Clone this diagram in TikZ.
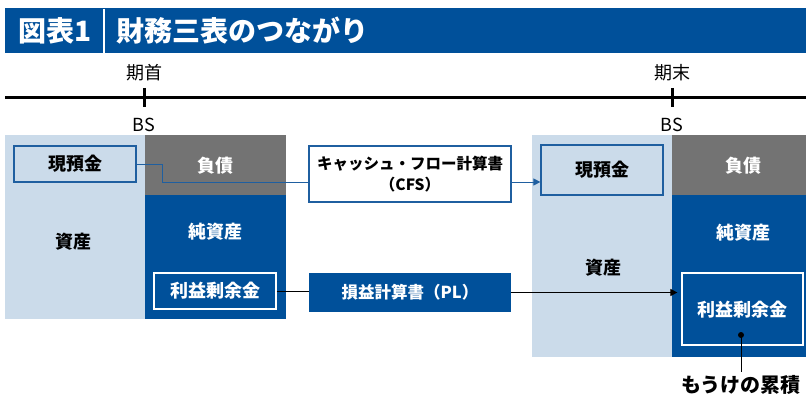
\documentclass[tikz,border=0pt]{standalone}
\usepackage{fontspec}
\setmainfont{Noto Sans CJK JP}
\usetikzlibrary{arrows.meta}
\definecolor{navy}{RGB}{0,80,154}
\definecolor{lightblue}{RGB}{203,219,234}
\definecolor{darkgray}{RGB}{115,115,115}
\definecolor{edgeblue}{RGB}{31,95,160}
\tikzset{
  area/.style={draw=none, inner sep=0pt, outer sep=0pt},
  lbl/.style={font=\fontsize{18}{20}\selectfont\bfseries, inner sep=0pt},
  whitelbl/.style={lbl, text=white},
  timelbl/.style={font=\fontsize{18}{20}\selectfont, inner sep=0pt},
  flowline/.style={edgeblue, line width=1pt},
  blackline/.style={black, line width=1pt},
  tip/.style={-{Triangle[length=7pt,width=7pt]}}
}
\begin{document}
\begin{tikzpicture}[x=1pt,y=-1pt]
\useasboundingbox (0,0) rectangle (806,396);
% title bar
\node[area, fill=navy, minimum width=801pt, minimum height=45pt] (bar) at (405.5,30.5) {};
\draw[white, line width=2pt] (104,9) -- (104,53);
\node[font=\fontsize{28}{30}\selectfont\bfseries, text=white, inner sep=0pt] (fig) at (55,31) {図表1};
\node[font=\fontsize{28}{30}\selectfont\bfseries, text=white, inner sep=0pt, anchor=west] (ttl) at (116,31) {財務三表のつながり};
% timeline
\coordinate (tl0) at (5,97);
\coordinate (tl1) at (806,97);
\draw[line width=3pt] (tl0) -- (tl1);
\draw[line width=3pt] (144,88) -- (144,107);
\draw[line width=3pt] (672,88) -- (672,107);
\node[timelbl] (begin) at (144,73) {期首};
\node[timelbl] (end) at (672,73) {期末};
\node[timelbl] (bs1) at (144,125) {BS};
\node[timelbl] (bs2) at (672,125) {BS};
% left BS
\node[area, fill=lightblue, minimum width=140pt, minimum height=184pt] (assetL) at (75,227) {};
\node[area, fill=darkgray, minimum width=141pt, minimum height=60pt] (liabL) at (215.5,165) {};
\node[area, fill=navy, minimum width=141pt, minimum height=124pt] (eqL) at (215.5,257) {};
\node[draw=edgeblue, line width=1.2pt, fill=lightblue, minimum width=122pt, minimum height=36pt, inner sep=0pt, lbl] (cashL) at (75,164) {現預金};
\node[draw=white, line width=1.2pt, fill=navy, minimum width=122pt, minimum height=36pt, inner sep=0pt, whitelbl] (reL) at (215,291) {利益剰余金};
\node[lbl] (assetLt) at (73,242) {資産};
\node[whitelbl] (liabLt) at (215,166) {負債};
\node[whitelbl] (eqLt) at (215,232) {純資産};
% right BS
\node[area, fill=lightblue, minimum width=140pt, minimum height=222pt] (assetR) at (602,246) {};
\node[area, fill=darkgray, minimum width=134pt, minimum height=60pt] (liabR) at (739,165) {};
\node[area, fill=navy, minimum width=134pt, minimum height=162pt] (eqR) at (739,276) {};
\node[draw=edgeblue, line width=1.2pt, fill=lightblue, minimum width=122pt, minimum height=50pt, inner sep=0pt, lbl] (cashR) at (602,170) {現預金};
\node[draw=white, line width=1.2pt, fill=navy, minimum width=121pt, minimum height=72pt, inner sep=0pt, whitelbl] (reR) at (742.5,309) {};
\node[whitelbl] (reRt) at (742.5,310) {利益剰余金};
\node[whitelbl] (liabRt) at (743,166) {負債};
\node[whitelbl] (eqRt) at (743,233) {純資産};
\node[lbl] (assetRt) at (603,268) {資産};
% statements
\node[draw=edgeblue, line width=1.2pt, fill=white, minimum width=202pt, minimum height=56pt, inner sep=0pt, align=center, font=\fontsize{15.5}{21}\selectfont\bfseries] (cfs) at (410,174) {キャッシュ・フロー計算書\\（CFS）};
\node[fill=navy, minimum width=202pt, minimum height=39pt, inner sep=0pt, font=\fontsize{16.5}{18}\selectfont\bfseries, text=white] (pl) at (410,292.5) {損益計算書（PL）};
% connectors
\draw[flowline] (cashL.east) -- ++(26,0) |- ([yshift=-8pt]cfs.west);
\draw[flowline, tip] ([yshift=-8pt]cfs.east) -- ([yshift=-8pt]cfs.east -| cashR.west);
\draw[blackline] (reL.east) -- (reL.east -| pl.west);
\draw[blackline, tip, shorten >=4pt] (pl.east) -- (pl.east -| reR.west);
% note
\coordinate (dot) at (741,335);
\fill (dot) circle (3pt);
\node[font=\fontsize{20}{22}\selectfont\bfseries, inner sep=0pt] (gain) at (741,385) {もうけの累積};
\draw[blackline] (dot) -- (741,372);
\end{tikzpicture}
\end{document}
